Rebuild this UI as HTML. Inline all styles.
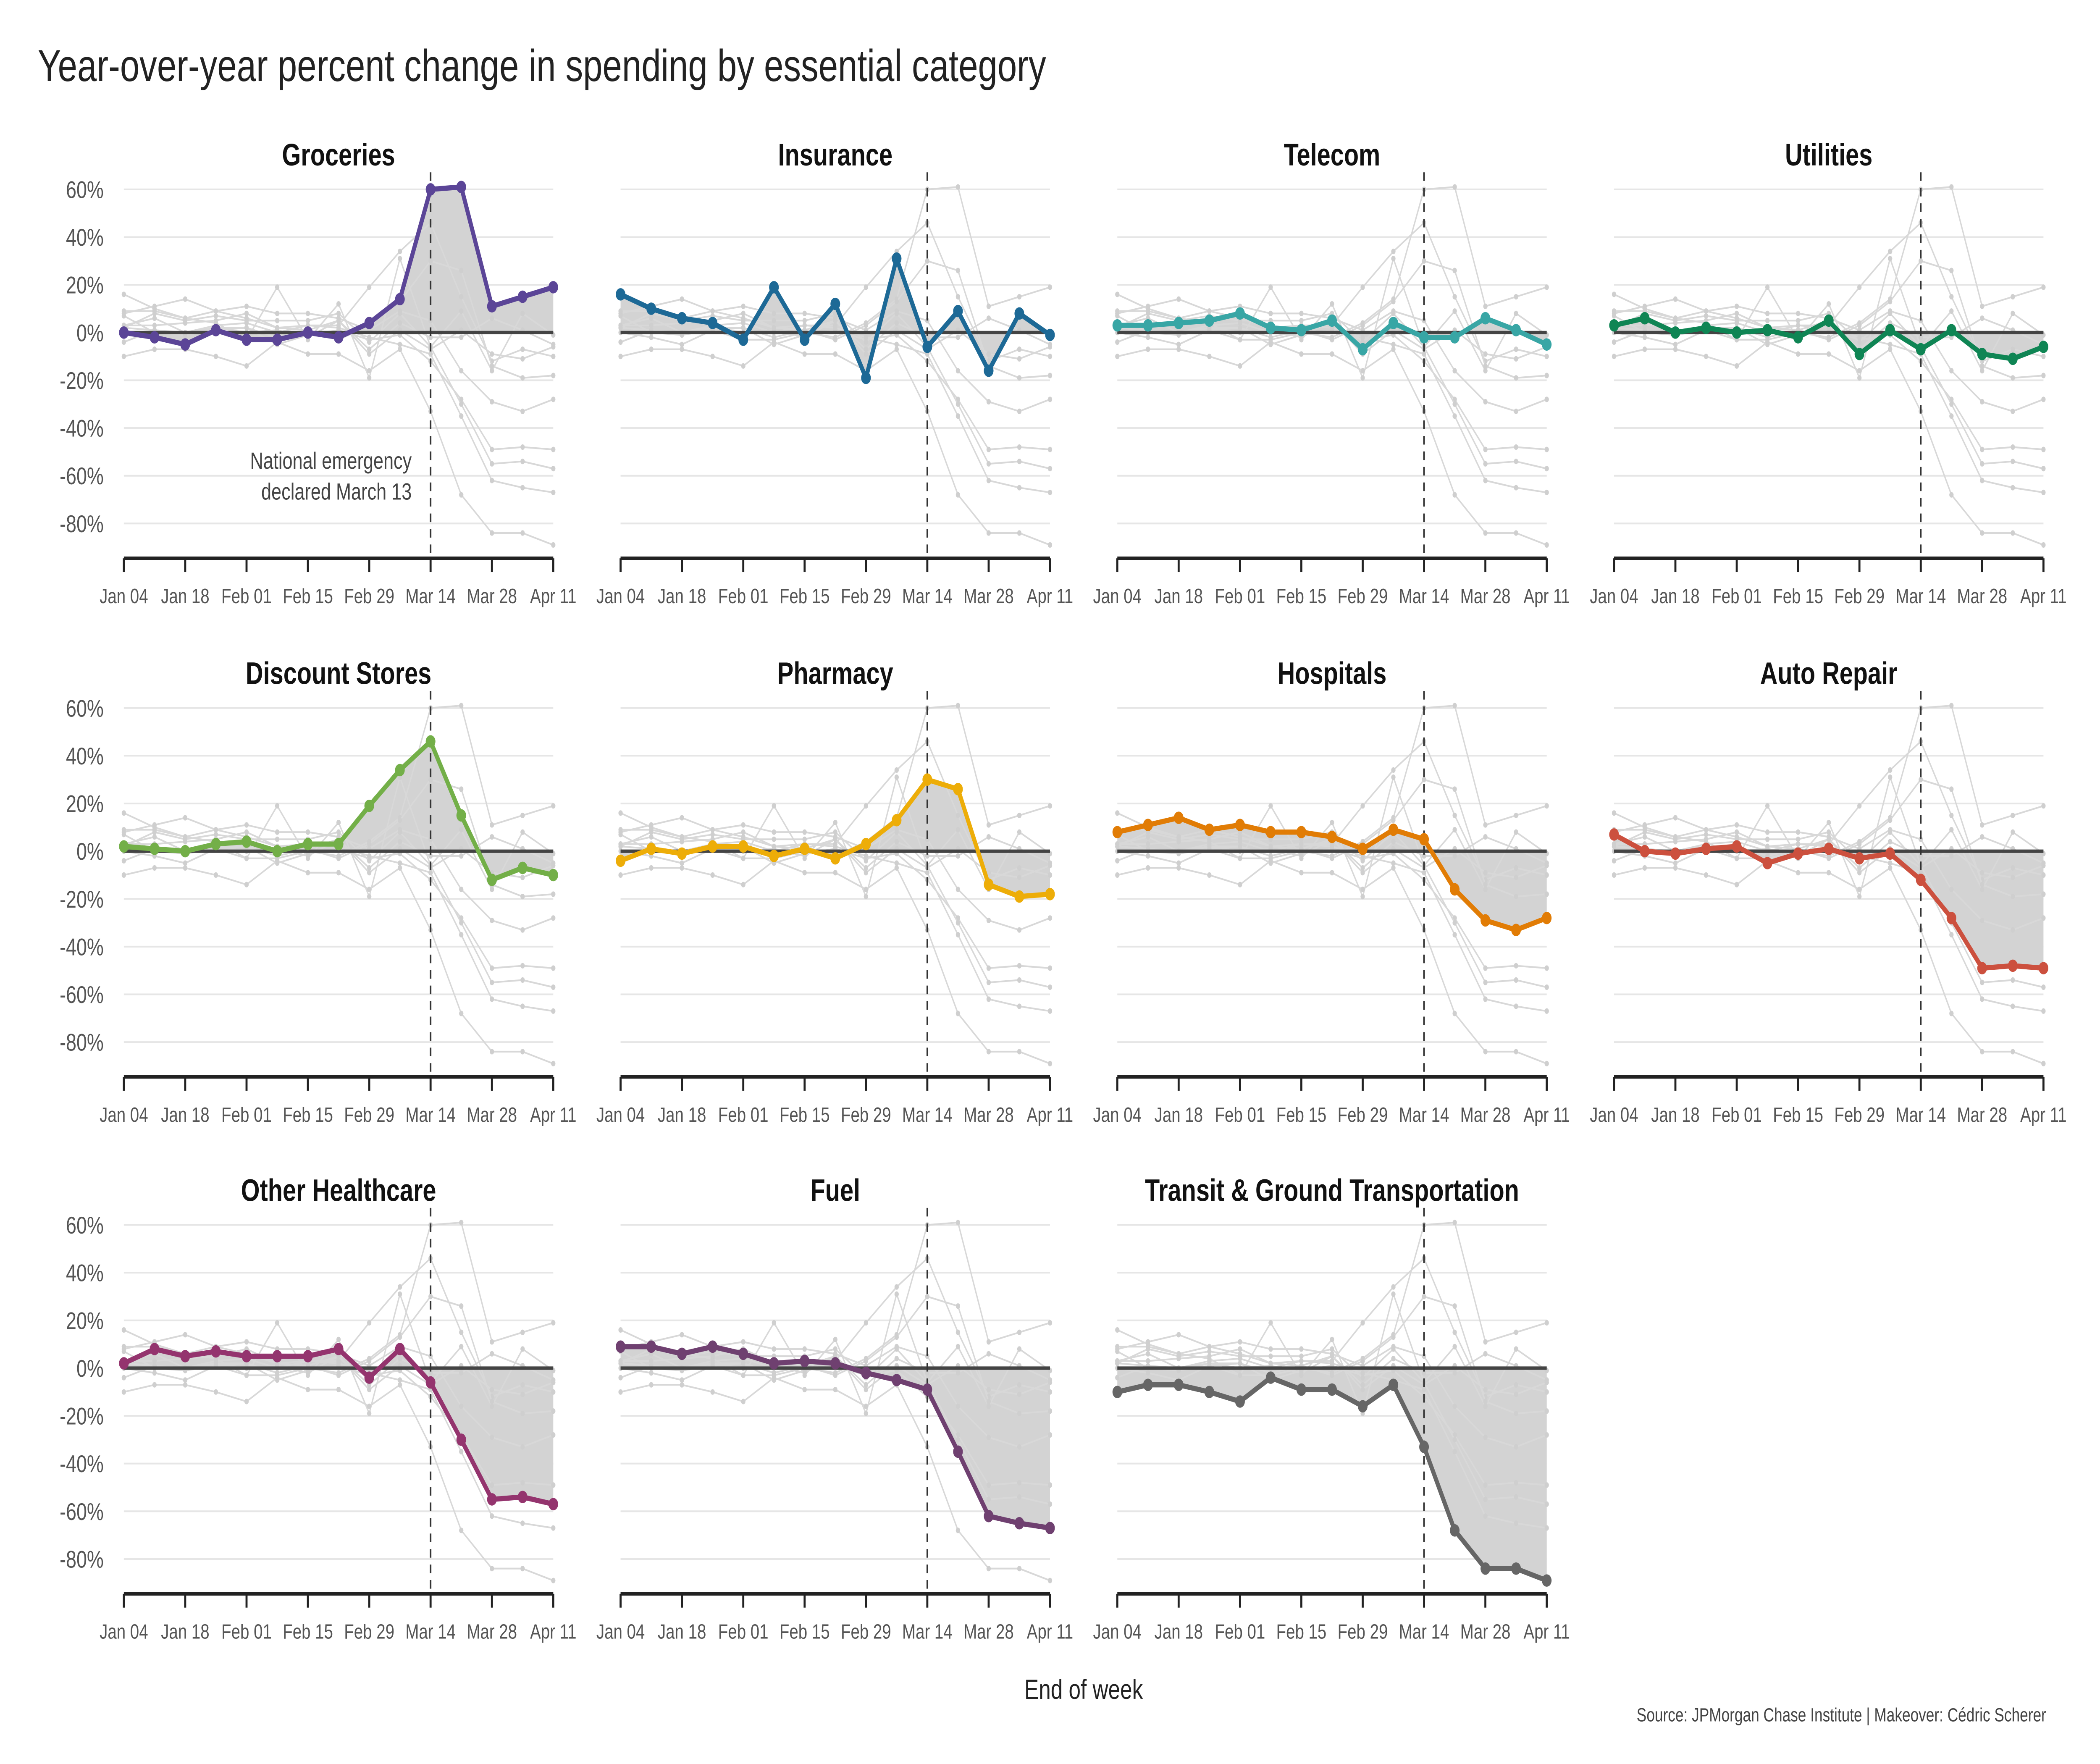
<!DOCTYPE html>
<html><head><meta charset="utf-8">
<style>
html,body{margin:0;padding:0;background:#fff;width:100%;height:100%;overflow:hidden;}
svg{display:block;font-family:"Liberation Sans",sans-serif;width:100vw;height:100vh;}
</style></head>
<body>
<svg id="chart" viewBox="0 0 1560 1023.75" preserveAspectRatio="none" xmlns="http://www.w3.org/2000/svg">
<rect width="1560" height="1024" fill="#fff"/>
<text x="28" y="47" font-size="26" fill="#222">Year-over-year percent change in spending by essential category</text>
<text x="805" y="986" font-size="16" fill="#222" text-anchor="middle">End of week</text>
<text x="1520" y="999" font-size="11" fill="#444" text-anchor="end">Source: JPMorgan Chase Institute | Makeover: Cédric Scherer</text>
<g id="panels"></g>
</svg>
<script>
const categories = ["Groceries","Insurance","Telecom","Utilities","Discount Stores","Pharmacy","Hospitals","Auto Repair","Other Healthcare","Fuel","Transit & Ground Transportation"];
const colors = ["#5b4597","#1d6996","#38a6a5","#0f8554","#73af48","#edad08","#e17c05","#cc503e","#94346e","#6f4070","#666666"];
const weekLabels = ["Jan 04","Jan 18","Feb 01","Feb 15","Feb 29","Mar 14","Mar 28","Apr 11"];
const yTicks = [60,40,20,0,-20,-40,-60,-80];
const groceries = [0,-2,-5,1,-3,-3,0,-2,4,14,60,61,11,15,19];
const insurance = [16,10,6,4,-3,19,-3,12,-19,31,-6,9,-16,8,-1];
const telecom = [3,3,4,5,8,2,1,5,-7,4,-2,-2,6,1,-5];
const utilities = [3,6,0,2,0,1,-2,5,-9,1,-7,1,-9,-11,-6];
const discount = [2,1,0,3,4,0,3,3,19,34,46,15,-12,-7,-10];
const pharmacy = [-4,1,-1,2,2,-2,1,-3,3,13,30,26,-14,-19,-18];
const hospitals = [8,11,14,9,11,8,8,6,1,9,5,-16,-29,-33,-28];
const autoRepair = [7,0,-1,1,2,-5,-1,1,-3,-1,-12,-28,-49,-48,-49];
const otherHealthcare = [2,8,5,7,5,5,5,8,-4,8,-6,-30,-55,-54,-57];
const fuel = [9,9,6,9,6,2,3,2,-2,-5,-9,-35,-62,-65,-67];
const transit = [-10,-7,-7,-10,-14,-4,-9,-9,-16,-7,-33,-68,-84,-84,-89];
const series = [groceries,insurance,telecom,utilities,discount,pharmacy,hospitals,autoRepair,otherHealthcare,fuel,transit];

const NS="http://www.w3.org/2000/svg";
const root=document.getElementById('panels');
function mk(tag,attrs,parent){const e=document.createElementNS(NS,tag);for(const k in attrs)e.setAttribute(k,attrs[k]);parent.appendChild(e);return e;}
const pw=319, colX=[92,461,830,1199], zeroY=[193,494,794];
const pxPer=1.385;
categories.forEach((cat,i)=>{
  const col=i%4,row=Math.floor(i/4);
  const x0=colX[col], y0=zeroY[row];
  const xs=k=>x0+k*pw/14;
  const ys=v=>y0-v*pxPer;
  const g=mk('g',{},root);
  
  
  yTicks.forEach(t=>{
    const l=mk('line',{x1:x0,x2:x0+pw,y1:ys(t),y2:ys(t),stroke:'#e6e6e6','stroke-width':1},g);
    
    
    if(col===0){
      const tx=mk('text',{x:x0-15,y:ys(t)+5,'font-size':14,fill:'#555','text-anchor':'end'},g);
      
      
      tx.textContent=t+'%';
    }
  });
  const s=series[i];
  let d='M'+xs(0)+','+ys(0);
  s.forEach((v,k)=>{d+='L'+xs(k)+','+ys(v);});
  d+='L'+xs(14)+','+ys(0)+'Z';
  const area=mk('path',{d:d,fill:'#d3d3d3'},g);
  
  
  series.forEach((o,j)=>{
    if(j===i)return;
    const pl=mk('polyline',{points:o.map((v,k)=>xs(k)+','+ys(v)).join(' '),fill:'none',stroke:'#d8d8d8','stroke-width':1},g);
    
    
    o.forEach((v,k)=>{
      const c=mk('circle',{cx:xs(k),cy:ys(v),r:1.6,fill:'#cfcfcf'},g);
      
      
    });
  });
  const z=mk('line',{x1:x0,x2:x0+pw,y1:ys(0),y2:ys(0),stroke:'#444','stroke-width':2},g);
  
  
  const em=mk('line',{x1:xs(10),x2:xs(10),y1:y0-93,y2:y0+131,stroke:'#333','stroke-width':1.2,'stroke-dasharray':'5,4'},g);
  
  
  const ml=mk('polyline',{points:s.map((v,k)=>xs(k)+','+ys(v)).join(' '),fill:'none',stroke:colors[i],'stroke-width':3,'stroke-linejoin':'round'},g);
  
  
  s.forEach((v,k)=>{
    const c=mk('circle',{cx:xs(k),cy:ys(v),r:3.6,fill:colors[i]},g);
    
    
  });
  const ax=mk('line',{x1:x0,x2:x0+pw,y1:y0+131,y2:y0+131,stroke:'#222','stroke-width':2},g);
  
  
  weekLabels.forEach((lb,m)=>{
    const tx0=xs(m*2);
    const tk=mk('line',{x1:tx0,x2:tx0,y1:y0+131,y2:y0+139,stroke:'#222','stroke-width':1.5},g);
    
    
    const t=mk('text',{x:tx0,y:y0+157,'font-size':12,fill:'#555','text-anchor':'middle'},g);
    
    
    t.textContent=lb;
  });
  const ti=mk('text',{x:x0+pw/2,y:y0-97,'font-size':18,'font-weight':'bold',fill:'#111','text-anchor':'middle'},g);
  
  
  ti.textContent=cat;
  if(i===0){
    const a1=mk('text',{x:xs(10)-14,y:y0+79,'font-size':13.5,fill:'#444','text-anchor':'end'},g);
    
    
    a1.textContent='National emergency';
    const a2=mk('text',{x:xs(10)-14,y:y0+97,'font-size':13.5,fill:'#444','text-anchor':'end'},g);
    
    
    a2.textContent='declared March 13';
  }
});
</script>
</body></html>
